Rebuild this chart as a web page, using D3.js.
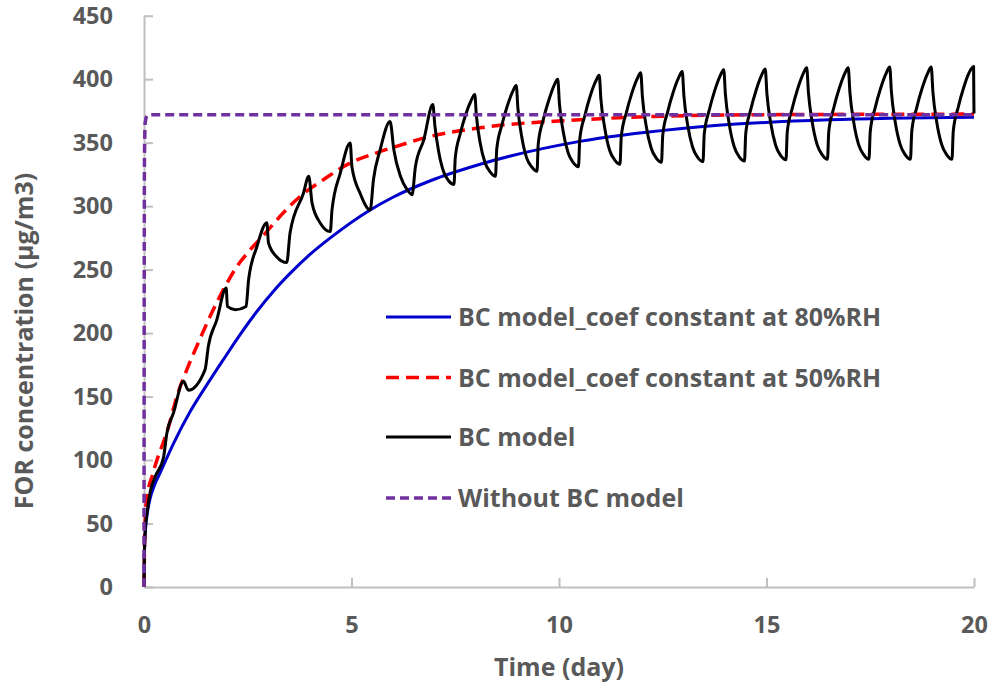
<!DOCTYPE html>
<html>
<head>
<meta charset="utf-8">
<script src="https://cdn.jsdelivr.net/npm/d3@7"></script>
<style>
  body { margin: 0; background: #fff; }
  svg text { font-family: "Open Sans", "Noto Sans", sans-serif; font-weight: 700; fill: #595959; }
</style>
</head>
<body>
<div id="chart"></div>
<script>

// data: [day, FOR concentration]
const blueData = [
  [0,0],[0.01,25],[0.03,42],[0.08,58],[0.15,70],[0.25,80],[0.39,90],[0.71,113],[1.11,138],
  [1.51,159],[1.91,179],[2.32,199],[2.72,217],[3.12,233],[3.52,247],[4.0,262],[4.49,275],
  [5.45,297],[6.0,307],[6.9,320],[8.1,333],[10.5,351],[12.9,361],[16.5,368],[20,370]
];

const redData = [
  [0,0],[0.02,45],[0.06,68],[0.22,90],[0.59,126],[0.79,150],[1.03,171],[1.27,189.5],
  [1.59,213],[1.91,234],[2.24,252.5],[2.56,265.6],[2.88,277],[3.28,292],[3.76,307.6],
  [4.33,321],[4.97,334],[5.61,342],[6.34,349.7],[6.74,353.6],[8.1,361.7],[10.5,368],
  [12.7,371],[15,372],[20,372.5]
];

const blackData = [
  [0,0],[0.01,28],[0.03,45],[0.08,60],[0.15,75],[0.27,87],[0.47,102],[0.55,121],[0.71,137],[0.95,162],
  [1.07,155],[1.47,171],[1.55,189.5],[1.75,210],[1.98,235.5],
  [2.01,221],[2.2,218.4],[2.46,221],[2.52,242],[2.72,268],[2.96,287],
  [3.0,271],[3.2,260],[3.44,255.6],[3.52,279],[3.84,310],[3.97,323.6],
  [4.05,302.4],[4.25,286.6],[4.49,280],[4.53,297],[4.73,326],[4.97,349.7],
  [5.01,331],[5.21,310],[5.45,297],[5.53,321],[5.69,344.4],[5.93,366.7],
  [6.02,344.4],[6.18,323.6],[6.34,313],[6.46,309],[6.54,331],[6.74,352],[6.96,380],
  [7.01,363],[7.10,343],[7.22,327],[7.34,320],[7.47,317],[7.50,338],[7.62,357],[7.75,372],[7.88,383],[7.97,388],
  [8.01,371],[8.10,350],[8.22,334],[8.34,327],[8.47,323.5],[8.50,345],[8.62,363.5],[8.75,378.5],[8.88,390],[8.97,395],
  [9.01,377],[9.10,355],[9.22,338],[9.34,331],[9.47,327.5],[9.50,349],[9.62,368],[9.75,383],[9.88,395],[9.97,400],
  [10.01,381],[10.10,359],[10.22,342],[10.34,334.5],[10.47,331],[10.50,352.5],[10.62,371],[10.75,386.5],[10.88,398],[10.97,403],
  [11.01,384],[11.10,362],[11.22,344],[11.34,336.5],[11.47,333],[11.50,354.5],[11.62,373.3],[11.75,388.4],[11.88,400],[11.97,405],
  [12.01,386],[12.10,363.4],[12.22,345.8],[12.34,338],[12.47,334.5],[12.50,356],[12.62,374.5],[12.75,389.5],[12.88,401],[12.97,406],
  [13.01,386.8],[13.10,364],[13.22,346.4],[13.34,338.5],[13.47,335],[13.50,356.8],[13.62,375.6],[13.75,390.8],[13.88,402.4],[13.97,407.5],
  [14.01,388],[14.10,365],[14.22,347],[14.34,339],[14.47,335.5],[14.50,357.3],[14.62,376],[14.75,391.3],[14.88,403],[14.97,408],
  [15.01,388.7],[15.10,365.8],[15.22,348],[15.34,340],[15.47,336.5],[15.50,358.3],[15.62,377],[15.75,392.3],[15.88,404],[15.97,409],
  [16.01,389.6],[16.10,366.5],[16.22,348.5],[16.34,340.6],[16.47,337],[16.50,358.6],[16.62,377.3],[16.75,392.4],[16.88,404],[16.97,409],
  [17.01,389.6],[17.10,366.5],[17.22,348.5],[17.34,340.6],[17.47,337],[17.50,358.8],[17.62,377.6],[17.75,392.8],[17.88,404.4],[17.97,409.5],
  [18.01,389.9],[18.10,366.7],[18.22,348.6],[18.34,340.6],[18.47,337],[18.50,358.8],[18.62,377.6],[18.75,392.8],[18.88,404.4],[18.97,409.5],
  [19.01,389.9],[19.10,366.7],[19.22,348.6],[19.34,340.6],[19.47,337],[19.50,358.9],[19.62,377.9],[19.75,393.2],[19.88,404.9],[19.99,410],[20,373]
];

const purpleData = [
  [0,0],[0.004,200],[0.012,340],[0.03,366],[0.08,371.5],[0.2,372],[20,372]
];

const xTicks = [0, 5, 10, 15, 20];
const yTicks = [0, 50, 100, 150, 200, 250, 300, 350, 400, 450];

const seriesNames = [
  'BC model_coef constant at 80%RH',
  'BC model_coef constant at 50%RH',
  'BC model',
  'Without BC model'
];

// drawing
const width = 990, height = 686;

const svg = d3.select('#chart').append('svg')
    .attr('width', width)
    .attr('height', height);

const xScale = d3.scaleLinear().domain([0, 20]).range([144, 974]);
const yScale = d3.scaleLinear().domain([0, 450]).range([587, 15.7]);

const xAxis = d3.axisBottom(xScale)
    .tickValues(xTicks)
    .tickSizeInner(-9)
    .tickSizeOuter(0)
    .tickPadding(29);

const yAxis = d3.axisLeft(yScale)
    .tickValues(yTicks)
    .tickSizeInner(-9)
    .tickSizeOuter(0)
    .tickPadding(31);

const xAxisGroup = svg.append('g')
    .attr('class', 'axis x-axis')
    .attr('transform', 'translate(0,' + yScale(0) + ')')
    .call(xAxis);

const yAxisGroup = svg.append('g')
    .attr('class', 'axis y-axis')
    .attr('transform', 'translate(' + xScale(0) + ',0)')
    .call(yAxis);

svg.selectAll('.axis path, .axis line')
    .attr('stroke', '#bfbfbf')
    .attr('stroke-width', 2);
svg.selectAll('.axis text')
    .attr('font-size', 23.5)
    .style('font-family', '"Open Sans", sans-serif');

// axis titles
svg.append('text')
    .attr('x', 559)
    .attr('y', 676)
    .attr('text-anchor', 'middle')
    .attr('font-size', 25)
    .text('Time (day)');

svg.append('text')
    .attr('transform', 'translate(33,341) rotate(-90)')
    .attr('text-anchor', 'middle')
    .attr('font-size', 25)
    .text('FOR concentration (µg/m3)');

const line = d3.line()
    .x(d => xScale(d[0]))
    .y(d => yScale(d[1]))
    .curve(d3.curveMonotoneX);

const styles = [
  {data: blueData, color: '#0000cc', width: 3, dash: null},
  {data: redData, color: '#ff0000', width: 3.5, dash: '13,7'},
  {data: blackData, color: '#000000', width: 3, dash: null},
  {data: purpleData, color: '#7030a0', width: 3.5, dash: '9,5'}
];

styles.forEach(s => {
  svg.append('path')
      .datum(s.data)
      .attr('fill', 'none')
      .attr('stroke', s.color)
      .attr('stroke-width', s.width)
      .attr('stroke-dasharray', s.dash)
      .attr('stroke-linejoin', 'round')
      .attr('d', line);
});

// legend
const legendRows = [317, 377.5, 437, 498];
const legend = svg.append('g').attr('class', 'legend');

seriesNames.forEach((name, i) => {
  const s = styles[i];
  legend.append('line')
      .attr('x1', 386).attr('x2', 451)
      .attr('y1', legendRows[i]).attr('y2', legendRows[i])
      .attr('stroke', s.color)
      .attr('stroke-width', s.width)
      .attr('stroke-dasharray', s.dash);
  legend.append('text')
      .attr('x', 458)
      .attr('y', legendRows[i])
      .attr('dy', '0.36em')
      .attr('font-size', 25)
      .text(name);
});

</script>
</body>
</html>
